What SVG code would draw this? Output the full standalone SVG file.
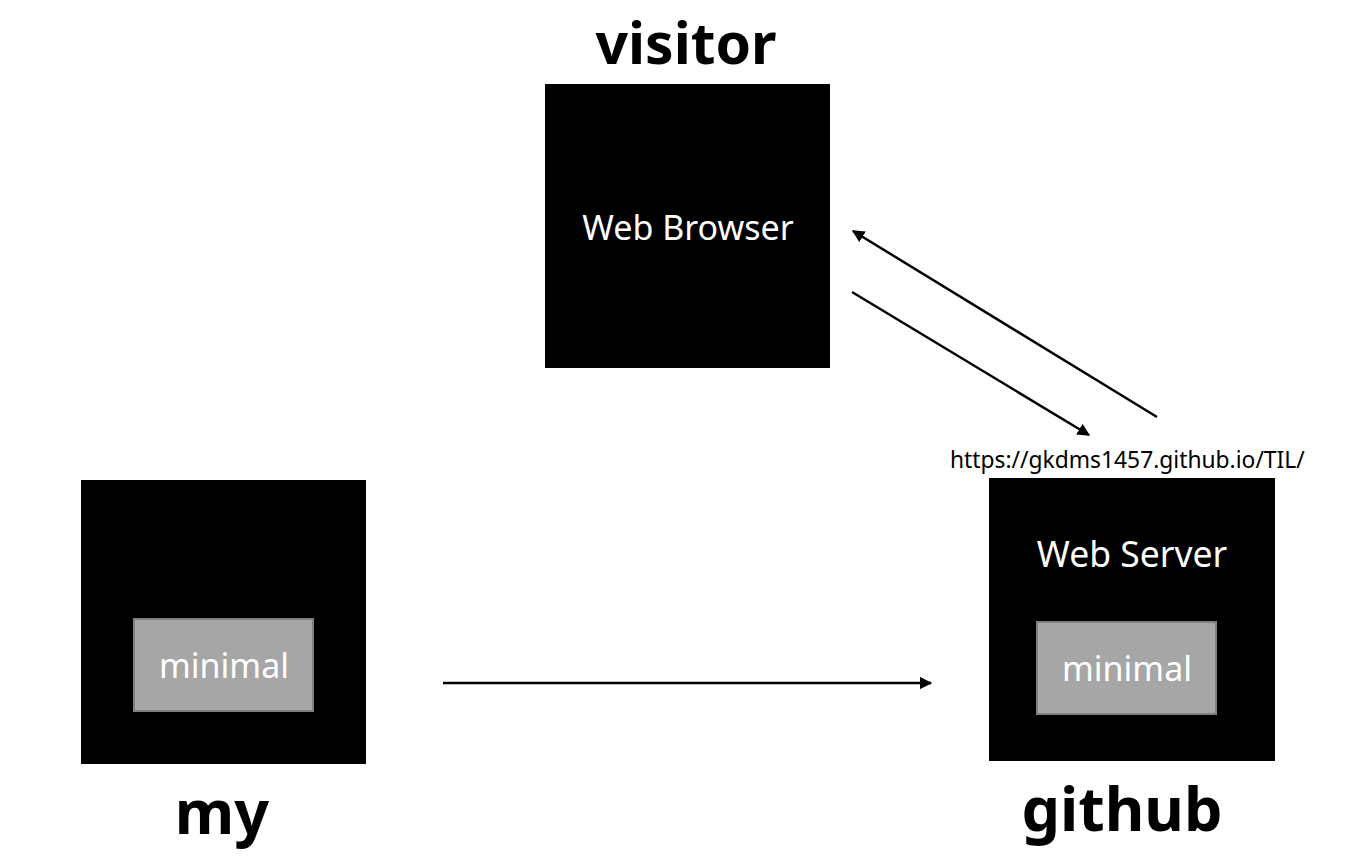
<svg xmlns="http://www.w3.org/2000/svg" width="1357" height="857" viewBox="0 0 1357 857">
<defs>
<marker id="ah" viewBox="0 0 10 10" refX="9" refY="5" markerWidth="5" markerHeight="5" orient="auto" markerUnits="strokeWidth"><path d="M0,0 L10,5 L0,10 z" fill="#000"/></marker>
<style>
.box{fill:#000}
.inner{fill:#a6a6a6;stroke:#7f7f7f;stroke-width:2}
.wt{fill:#fff;font-family:"Noto Sans","Open Sans",sans-serif;font-size:34px;text-anchor:middle}
.big{fill:#000;font-family:"Noto Sans","Open Sans",sans-serif;font-size:61px;font-weight:bold;text-anchor:middle}
.url{fill:#000;font-family:"Noto Sans","Open Sans",sans-serif;font-size:22.8px}
.conn{stroke:#000;stroke-width:2.5;fill:none;marker-end:url(#ah)}
</style>
</defs>
<rect width="1357" height="857" fill="#fff"/>
<g id="visitor">
<text class="big" x="686" y="64" style="font-size:57px">visitor</text>
<rect class="box" x="545" y="84" width="285" height="284"/>
<text class="wt" x="688" y="240">Web Browser</text>
</g>
<g id="my">
<rect class="box" x="81" y="480" width="285" height="284"/>
<rect class="inner" x="134" y="619" width="179" height="92"/>
<text class="wt" x="224" y="678">minimal</text>
<text class="big" x="222" y="834">my</text>
</g>
<g id="github">
<text class="url" x="950" y="468">https://gkdms1457.github.io/TIL/</text>
<rect class="box" x="989" y="478" width="286" height="283"/>
<text class="wt" x="1132" y="567" style="font-size:35.5px">Web Server</text>
<rect class="inner" x="1037" y="622" width="179" height="92"/>
<text class="wt" x="1127" y="681">minimal</text>
<text class="big" x="1122" y="831">github</text>
</g>
<g id="connectors">
<line class="conn" x1="1157" y1="417" x2="853" y2="231"/>
<line class="conn" x1="852" y1="292" x2="1089" y2="435"/>
<line class="conn" x1="443" y1="683" x2="931" y2="683"/>
</g>
</svg>
